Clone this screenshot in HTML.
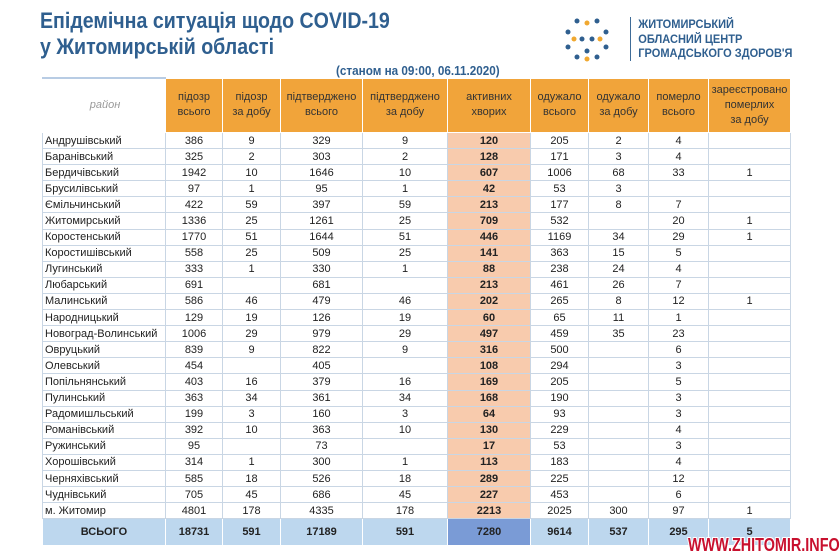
<!DOCTYPE html>
<html><head><meta charset="utf-8"><style>
body{margin:0;width:840px;height:560px;background:#fff;font-family:"Liberation Sans",sans-serif;position:relative;overflow:hidden}
.t1{position:absolute;left:40px;top:8px;font-size:22px;font-weight:bold;color:#2f5f8f;line-height:26px;transform:scaleX(.89);transform-origin:left top;white-space:nowrap}
.sub{position:absolute;left:336px;top:63px;font-size:13px;font-weight:bold;color:#2f5f8f;transform:scaleX(.9);transform-origin:left top;white-space:nowrap}
.logo{position:absolute;left:630px;top:17px;font-size:12px;font-weight:bold;color:#2f5f8f;line-height:14.5px;border-left:1px solid #2f5f8f;padding-left:8px;transform:scaleX(.92);transform-origin:left top;white-space:nowrap}
table{position:absolute;left:42px;top:77px;border-collapse:collapse;table-layout:fixed;font-size:11px;color:#222}
td{border:1px solid #c9d6e4;text-align:center;padding:0;height:15.1px;line-height:14px;white-space:nowrap;overflow:hidden}
td.n{text-align:left;padding-left:2px}
tr.h td{background:#f1a43a;height:53px;color:#333;line-height:15px;border-color:#fff}
tr.h td.n{background:#fff;color:#999;font-style:italic;text-align:center;border-top:2px solid #b8cce4}
td.a{background:#f8cbad;font-weight:bold}
tr.tot td{background:#bdd7ee;font-weight:bold;height:26px;border-color:#fff}
tr.tot td.a{background:#7a9bd6}
.wm{position:absolute;left:688px;top:535px;font-size:18px;font-weight:bold;color:#c8102e;text-shadow:1px 1px 0 #fff,-1px -1px 0 #fff,1px -1px 0 #fff,-1px 1px 0 #fff;transform:scaleX(.8);transform-origin:left top;white-space:nowrap}
</style></head><body>
<div class="t1">Епідемічна ситуація щодо COVID-19<br>у Житомирській області</div>
<svg style="position:absolute;left:562px;top:17px" width="50" height="45">
<g fill="#2f5f8f"><circle cx="15" cy="4" r="2.5"/><circle cx="35" cy="4" r="2.5"/><circle cx="6" cy="15" r="2.5"/><circle cx="44" cy="15" r="2.5"/><circle cx="20" cy="22" r="2.5"/><circle cx="30" cy="22" r="2.5"/><circle cx="6" cy="30" r="2.5"/><circle cx="44" cy="30" r="2.5"/><circle cx="15" cy="40" r="2.5"/><circle cx="35" cy="40" r="2.5"/><circle cx="25" cy="34" r="2.5"/></g>
<g fill="#f0a830"><circle cx="25" cy="6" r="2.5"/><circle cx="12" cy="22" r="2.5"/><circle cx="38" cy="22" r="2.5"/><circle cx="25" cy="42" r="2.5"/></g></svg>
<div class="logo">ЖИТОМИРСЬКИЙ<br>ОБЛАСНИЙ ЦЕНТР<br>ГРОМАДСЬКОГО ЗДОРОВ'Я</div>
<div class="sub">(станом на 09:00, 06.11.2020)</div>
<table>
<colgroup><col style="width:123px"><col style="width:57px"><col style="width:58px"><col style="width:82px"><col style="width:85px"><col style="width:83px"><col style="width:58px"><col style="width:60px"><col style="width:60px"><col style="width:82px"></colgroup>
<tr class="h"><td class="n">район</td><td>підозр<br>всього</td><td>підозр<br>за добу</td><td>підтверджено<br>всього</td><td>підтверджено<br>за добу</td><td>активних<br>хворих</td><td>одужало<br>всього</td><td>одужало<br>за добу</td><td>померло<br>всього</td><td>зареєстровано<br>померлих<br>за добу</td></tr>
<tbody id="tb"></tbody>
<tr class="tot"><td>ВСЬОГО</td><td>18731</td><td>591</td><td>17189</td><td>591</td><td class="a">7280</td><td>9614</td><td>537</td><td>295</td><td>5</td></tr>
</table>
<div class="wm">WWW.ZHITOMIR.INFO</div>
<script>
const rows=[
["Андрушівський",386,9,329,9,120,205,2,4,""],
["Баранівський",325,2,303,2,128,171,3,4,""],
["Бердичівський",1942,10,1646,10,607,1006,68,33,1],
["Брусилівський",97,1,95,1,42,53,3,"",""],
["Ємільчинський",422,59,397,59,213,177,8,7,""],
["Житомирський",1336,25,1261,25,709,532,"",20,1],
["Коростенський",1770,51,1644,51,446,1169,34,29,1],
["Коростишівський",558,25,509,25,141,363,15,5,""],
["Лугинський",333,1,330,1,88,238,24,4,""],
["Любарський",691,"",681,"",213,461,26,7,""],
["Малинський",586,46,479,46,202,265,8,12,1],
["Народницький",129,19,126,19,60,65,11,1,""],
["Новоград-Волинський",1006,29,979,29,497,459,35,23,""],
["Овруцький",839,9,822,9,316,500,"",6,""],
["Олевський",454,"",405,"",108,294,"",3,""],
["Попільнянський",403,16,379,16,169,205,"",5,""],
["Пулинський",363,34,361,34,168,190,"",3,""],
["Радомишльський",199,3,160,3,64,93,"",3,""],
["Романівський",392,10,363,10,130,229,"",4,""],
["Ружинський",95,"",73,"",17,53,"",3,""],
["Хорошівський",314,1,300,1,113,183,"",4,""],
["Черняхівський",585,18,526,18,289,225,"",12,""],
["Чуднівський",705,45,686,45,227,453,"",6,""],
["м. Житомир",4801,178,4335,178,2213,2025,300,97,1]];
const tb=document.getElementById('tb');
rows.forEach(r=>{const tr=document.createElement('tr');


r.forEach((v,i)=>{const td=document.createElement('td');td.textContent=v;if(i==0)td.className='n';if(i==5)td.className='a';tr.appendChild(td);});
tb.appendChild(tr);});
</script>
</body></html>
